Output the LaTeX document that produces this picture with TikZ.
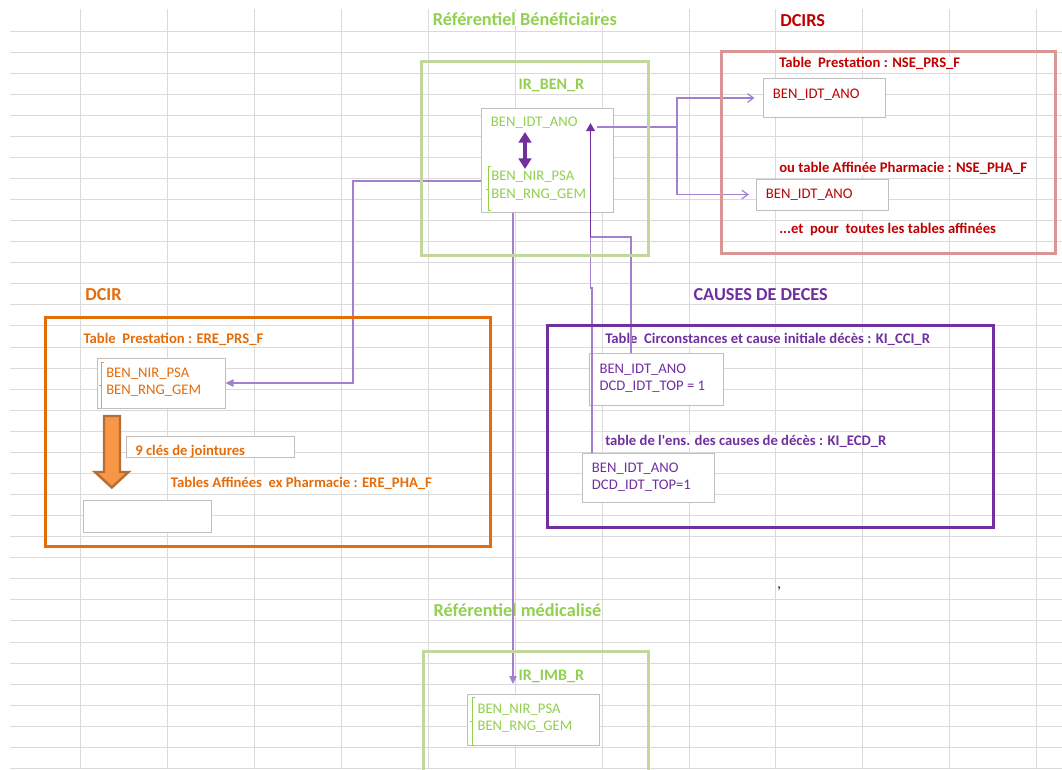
\documentclass[tikz,border=0pt]{standalone}
\usepackage{fontspec}
\setmainfont{Carlito}
\usetikzlibrary{arrows.meta,fit}
\definecolor{gridc}{HTML}{DADADA}
\definecolor{lgreen}{HTML}{92D050}
\definecolor{gbox}{HTML}{C3D69B}
\definecolor{dred}{HTML}{C00000}
\definecolor{pbox}{HTML}{D99694}
\definecolor{orng}{HTML}{E46C0A}
\definecolor{orfill}{HTML}{F79646}
\definecolor{ordark}{HTML}{B66D31}
\definecolor{purp}{HTML}{7030A0}
\definecolor{lpurp}{HTML}{A47FD0}
\definecolor{ibord}{HTML}{BFBFBF}
\begin{document}
\begin{tikzpicture}[x=0.75pt,y=-0.75pt,
  gridl/.style={draw=gridc,line width=0.75pt},
  lbl/.style={anchor=base west,inner xsep=0pt,inner ysep=0.3pt,fill=white},
  itxt/.style={anchor=base west,inner sep=0pt},
  body/.style={font=\fontsize{11}{13}\selectfont},
  bbody/.style={font=\fontsize{11}{13}\selectfont\bfseries},
  ttl/.style={font=\fontsize{13.7}{16}\selectfont\bfseries},
  sub/.style={font=\fontsize{12}{14}\selectfont\bfseries},
  ibox/.style={draw=ibord,fill=white,line width=0.75pt,inner sep=0pt},
  bigbox/.style={line width=2.25pt},
  lline/.style={draw=lpurp,line width=0.9pt},
  dline/.style={draw=purp,line width=1.1pt},
  barb/.style={-{Straight Barb[length=4.5pt,width=6.5pt]}},
  tri/.style={-{Triangle[length=6pt,width=5.5pt]}}
]
\useasboundingbox (0,0) rectangle (1062,769);
\fill[white] (0,0) rectangle (1062,769);
% spreadsheet grid
\foreach \i in {0,...,35} \draw[gridl] (10,{31+21.07*\i}) -- (1062,{31+21.07*\i});
\foreach \x in {80.7,167.6,254.5,341.4,428.3,515.2,602.1,689,775.9,862.8,949.7,1036.6}
  \draw[gridl] (\x,9) -- (\x,769);

% titles and labels (hide grid under overflowing text)
\node[lbl,ttl,text=lgreen] (tref) at (432.5,25) {Référentiel Bénéficiaires};
\node[lbl,ttl,text=dred] (tdcirs) at (780,26) {DCIRS};
\node[lbl,bbody,text=dred] (tnseprs) at (779,67.7) {Table~ Prestation : NSE\_PRS\_F};
\node[lbl,bbody,text=dred] (tnsepha) at (779,172.3) {ou table Affinée Pharmacie : NSE\_PHA\_F};
\node[lbl,bbody,text=dred] (tall) at (779,233.3) {...et~ pour~ toutes les tables affinées};
\node[lbl,ttl,text=orng] (tdcir) at (85,300.7) {DCIR};
\node[lbl,bbody,text=orng] (terprs) at (83.3,343.3) {Table~ Prestation : ERE\_PRS\_F};
\node[lbl,bbody,text=orng] (terpha) at (170.7,487.3) {Tables Affinées~ ex Pharmacie : ERE\_PHA\_F};
\node[lbl,ttl,text=purp] (tcauses) at (693.3,300.7) {CAUSES DE DECES};
\node[lbl,bbody,text=purp] (tcci) at (605,343.3) {Table~ Circonstances et cause initiale décès : KI\_CCI\_R};
\node[lbl,bbody,text=purp] (tecd) at (605,445.7) {table de l\textquotesingle ens. des causes de décès : KI\_ECD\_R};
\node[lbl,ttl,text=lgreen] (tmed) at (433.3,616) {Référentiel médicalisé};
\node[itxt,sub,text=lgreen] (tirben) at (518.3,89.3) {IR\_BEN\_R};
\node[itxt,sub,text=lgreen] (tirimb) at (518.3,680) {IR\_IMB\_R};
\node[itxt,body] (comma) at (777,588) {,};

% inner boxes
\node[ibox,fit={(481,108) (613,212)}] (benbox) {};
\node[ibox,fit={(763,78) (885,117)}] (nse1) {};
\node[ibox,fit={(756,179) (888,210)}] (nse2) {};
\node[ibox,fit={(97,358) (225,408)}] (prs) {};
\node[ibox,fit={(126,436) (294,457)}] (cles) {};
\node[ibox,fit={(83,500) (211,532)}] (pha) {};
\node[ibox,fit={(589,353) (723,405)}] (cci) {};
\node[ibox,fit={(582,453) (714,502)}] (ecd) {};
\node[ibox,fit={(467,694) (599,745)}] (imb) {};

% inner texts
\node[itxt,body,text=lgreen] (b1) at (490.7,126) {BEN\_IDT\_ANO};
\node[itxt,body,text=lgreen] (b2) at (491,180) {BEN\_NIR\_PSA};
\node[itxt,body,text=lgreen] (b3) at (491,198) {BEN\_RNG\_GEM};
\draw[lgreen,line width=0.75pt] (491,166) -- (488,166) -- (488,210) -- (491,210) (486,189) -- (488,189);
\node[itxt,body,text=dred] (n1) at (772.7,98.3) {BEN\_IDT\_ANO};
\node[itxt,body,text=dred] (n2) at (765.7,198.3) {BEN\_IDT\_ANO};
\node[itxt,body,text=orng] (p1) at (106,377.3) {BEN\_NIR\_PSA};
\node[itxt,body,text=orng] (p2) at (106,394.3) {BEN\_RNG\_GEM};
\draw[orfill,line width=0.75pt] (104,362) -- (101,362) -- (101,408) (99,385) -- (101,385);
\begin{scope}
  \clip (126,436) rectangle (294,456.5);
  \node[itxt,bbody,text=orng] (tcles) at (135,455.5) {9 clés de jointures};
\end{scope}
\node[itxt,body,text=purp] (c1) at (599.3,373.3) {BEN\_IDT\_ANO};
\node[itxt,body,text=purp] (c2) at (599.3,390.7) {DCD\_IDT\_TOP = 1};
\node[itxt,body,text=purp] (e1) at (591.7,472.7) {BEN\_IDT\_ANO};
\node[itxt,body,text=purp] (e2) at (591.7,489.3) {DCD\_IDT\_TOP=1};
\node[itxt,body,text=lgreen] (m1) at (477.3,713.3) {BEN\_NIR\_PSA};
\node[itxt,body,text=lgreen] (m2) at (477.3,730) {BEN\_RNG\_GEM};
\draw[lgreen,line width=0.75pt] (475,697) -- (472,697) -- (472,745) -- (475,745) (470,721) -- (472,721);

% block arrow prs -> pha
\draw[ordark,fill=orfill,line width=1.8pt,line join=miter]
  (104,416) -- (120,416) -- (120,472) -- (128.5,472) -- (111.8,487.5) -- (95,472) -- (104,472) -- cycle;

% connectors
\coordinate (s1) at (597,127);
\coordinate (j0) at (677,127);
\coordinate (j1) at (677,98);
\draw[lline,barb,shorten >=6pt] (s1) -- (j0) -- (j1) -- (j1 -| nse1.west);
\draw[lline,barb,shorten >=5pt] (j0) |- (nse2.west);
\coordinate (k1) at (353,181);
\draw[lline,tri] (k1 -| benbox.west) -- (k1) |- (prs.east);
\coordinate (v1) at (513,684);
\draw[lline,tri] (v1 |- benbox.south) -- (v1);
\coordinate (u1) at (590.5,237);
\coordinate (u0) at (590.5,123);
\coordinate (a1) at (631,237);
\coordinate (g1) at (592,288);
\draw[lline] (cci.north -| a1) -- (a1) -- (u1);
\draw[lline] (ecd.north -| g1) -- (g1) -- (u1 |- g1) -- (u1);
\draw[dline,-{Triangle[length=6pt,width=6.5pt]}] (u1) -- (u0);

% big boxes
\draw[bigbox,gbox] (421,61) rectangle (648,255);
\draw[bigbox,pbox] (721,51) rectangle (1055,253);
\draw[bigbox,orng] (45,317) rectangle (490,546);
\draw[bigbox,purp] (547,325) rectangle (993,527);
\draw[bigbox,gbox] (423,775) -- (423,651) -- (648,651) -- (648,775);

% double arrow between identifiers
\coordinate (d1) at (525,132);
\coordinate (d2) at (525,169);
\draw[purp,line width=3pt,{Triangle[length=8pt,width=9.5pt]}-{Triangle[length=8pt,width=9.5pt]}] (d1) -- (d2);
\end{tikzpicture}
\end{document}
